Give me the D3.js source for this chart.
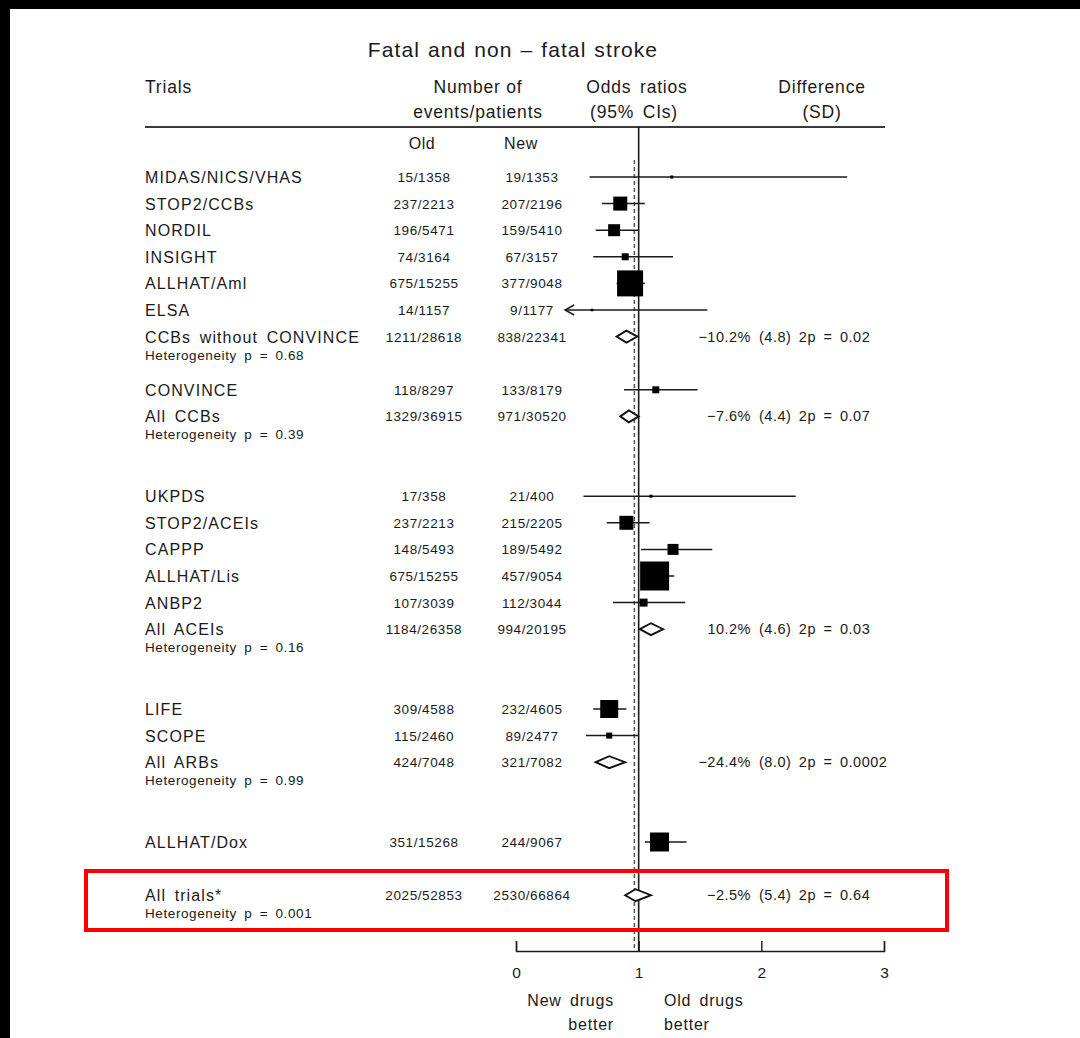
<!DOCTYPE html>
<html>
<head>
<meta charset="utf-8">
<script src="https://cdn.jsdelivr.net/npm/d3@7"></script>
<style>
  html, body { margin: 0; padding: 0; background: #000; }
  svg { display: block; }
  text { font-family: "Liberation Sans", Arial, Helvetica, sans-serif; fill: #1a1a1a; }
</style>
</head>
<body>
<svg id="chart" width="1080" height="1038"></svg>
<script>
// ---- Trial rows (top to bottom) ----
const trials = ["MIDAS/NICS/VHAS", "STOP2/CCBs", "NORDIL", "INSIGHT", "ALLHAT/Aml", "ELSA",
  "CCBs without CONVINCE", "CONVINCE", "All CCBs",
  "UKPDS", "STOP2/ACEIs", "CAPPP", "ALLHAT/Lis", "ANBP2", "All ACEIs",
  "LIFE", "SCOPE", "All ARBs", "ALLHAT/Dox", "All trials*"];
// row slot index (gaps separate drug classes)
const rowSlot = [0, 1, 2, 3, 4, 5, 6, 8, 9, 12, 13, 14, 15, 16, 17, 20, 21, 22, 25, 27];
const isSummary = [0, 0, 0, 0, 0, 0, 1, 0, 1, 0, 0, 0, 0, 0, 1, 0, 0, 1, 0, 1];
const oldEvents = ["15/1358", "237/2213", "196/5471", "74/3164", "675/15255", "14/1157",
  "1211/28618", "118/8297", "1329/36915",
  "17/358", "237/2213", "148/5493", "675/15255", "107/3039", "1184/26358",
  "309/4588", "115/2460", "424/7048", "351/15268", "2025/52853"];
const newEvents = ["19/1353", "207/2196", "159/5410", "67/3157", "377/9048", "9/1177",
  "838/22341", "133/8179", "971/30520",
  "21/400", "215/2205", "189/5492", "457/9054", "112/3044", "994/20195",
  "232/4605", "89/2477", "321/7082", "244/9067", "2530/66864"];
const oddsRatio = [1.27, 0.85, 0.80, 0.89, 0.93, 0.62, 0.90, 1.14, 0.92,
  1.10, 0.90, 1.28, 1.13, 1.04, 1.10, 0.76, 0.76, 0.76, 1.17, 0.975];
const ciLow = [0.60, 0.70, 0.65, 0.63, 0.82, 0.28, 0.82, 0.88, 0.85,
  0.55, 0.74, 1.02, 1.02, 0.79, 1.01, 0.63, 0.57, 0.65, 1.05, 0.89];
const ciHigh = [2.70, 1.05, 1.00, 1.28, 1.05, 1.56, 0.99, 1.48, 1.00,
  2.28, 1.09, 1.60, 1.29, 1.38, 1.20, 0.90, 1.00, 0.89, 1.39, 1.10];
// relative statistical weight of each trial (summaries drawn as diamonds)
const weight = [1.1, 23.3, 17.1, 5.8, 80.4, 0.4, null, 5.8, null,
  1.1, 23.3, 14.4, 100, 7.6, null, 38.5, 4.3, null, 42.9, null];

// ---- Summary rows: heterogeneity and difference ----
const heterogeneityP = ["0.68", "0.39", "0.16", "0.99", "0.001"];
const diffPct = ["−10.2%", "−7.6%", "10.2%", "−24.4%", "−2.5%"];
const diffSD = ["4.8", "4.4", "4.6", "8.0", "5.4"];
const diffP = ["0.02", "0.07", "0.03", "0.0002", "0.64"];

// ---- Axis ----
const axisTicks = [0, 1, 2, 3];
const plotMin = 0.4;   // intervals below this are cut with an arrow
const overallOR = 0.965;

const svg = d3.select("#chart");
// page background with the dark frame on the top and left edges
svg.append("rect").attr("x", 10).attr("y", 9).attr("width", 1070).attr("height", 1029).attr("fill", "#fff");

const x = d3.scaleLinear().domain([0, 3]).range([516, 884]);
const y = d3.scaleLinear().domain([0, 1]).range([177, 203.6]);
const boxSide = d3.scaleSqrt().domain([0, 100]).range([0, 29]);

const xName = 145, xOld = 424, xNew = 532;
const axisY = 951, ruleY = 127;

// ---- Title and headers ----
svg.append("text").attr("x", 513).attr("y", 57).attr("text-anchor", "middle")
  .style("font-size", "21px").style("letter-spacing", "1.1px").style("word-spacing", "1px")
  .text("Fatal and non – fatal stroke");

const head = svg.append("g").style("font-size", "17.5px").style("letter-spacing", "0.8px");
head.append("text").attr("x", xName).attr("y", 93).text("Trials");
head.append("text").attr("x", 478).attr("y", 93).attr("text-anchor", "middle").text("Number of");
head.append("text").attr("x", 478).attr("y", 118).attr("text-anchor", "middle").text("events/patients");
head.append("text").attr("x", 637).attr("y", 93).attr("text-anchor", "middle").style("word-spacing", "3px").text("Odds ratios");
head.append("text").attr("x", 634).attr("y", 118).attr("text-anchor", "middle").style("word-spacing", "3px").text("(95% CIs)");
head.append("text").attr("x", 822).attr("y", 93).attr("text-anchor", "middle").text("Difference");
head.append("text").attr("x", 822).attr("y", 118).attr("text-anchor", "middle").text("(SD)");

svg.append("line").attr("x1", xName).attr("x2", 885).attr("y1", ruleY).attr("y2", ruleY)
  .attr("stroke", "#3a3a3a").attr("stroke-width", 2.2);

svg.append("text").attr("x", 422).attr("y", 149).attr("text-anchor", "middle")
  .style("font-size", "16px").style("letter-spacing", "0.6px").text("Old");
svg.append("text").attr("x", 521).attr("y", 149).attr("text-anchor", "middle")
  .style("font-size", "16px").style("letter-spacing", "0.6px").text("New");

// ---- Reference lines ----
svg.append("line").attr("x1", x(overallOR)).attr("x2", x(overallOR))
  .attr("y1", 160).attr("y2", axisY)
  .attr("stroke", "#555").attr("stroke-width", 1.5).attr("stroke-dasharray", "4,3");
svg.append("line").attr("x1", x(1)).attr("x2", x(1)).attr("y1", ruleY).attr("y2", axisY)
  .attr("stroke", "#1a1a1a").attr("stroke-width", 1.6);

// ---- Rows ----
const rows = trials.map((name, i) => ({
  name, slot: rowSlot[i], summary: isSummary[i] === 1,
  old: oldEvents[i], neu: newEvents[i],
  or: oddsRatio[i], lo: ciLow[i], hi: ciHigh[i], w: weight[i]
}));
let s = 0;
rows.forEach(r => { if (r.summary) r.sIndex = s++; });

const g = svg.append("g");
rows.forEach(r => {
  const cy = y(r.slot);
  g.append("text").attr("x", xName).attr("y", cy + 6)
    .style("font-size", "16px").style("letter-spacing", "1.1px").style("word-spacing", "3px")
    .text(r.name);
  g.append("text").attr("x", xOld).attr("y", cy + 5).attr("text-anchor", "middle")
    .style("font-size", "13.5px").style("letter-spacing", "0.6px").text(r.old);
  g.append("text").attr("x", xNew).attr("y", cy + 5).attr("text-anchor", "middle")
    .style("font-size", "13.5px").style("letter-spacing", "0.6px").text(r.neu);

  if (r.summary) {
    const k = r.sIndex;
    g.append("text").attr("x", xName).attr("y", cy + 23)
      .style("font-size", "13.5px").style("letter-spacing", "0.6px").style("word-spacing", "3px")
      .text("Heterogeneity p = " + heterogeneityP[k]);
    // hollow diamond spanning the confidence interval
    const h = 6;
    const pts = [[x(r.lo), cy], [x(r.or), cy - h], [x(r.hi), cy], [x(r.or), cy + h]];
    g.append("path").attr("d", d3.line()(pts) + "Z")
      .attr("fill", "#fff").attr("stroke", "#111").attr("stroke-width", 1.9);
    g.append("text").attr("x", 751).attr("y", cy + 5).attr("text-anchor", "end")
      .style("font-size", "14.5px").style("letter-spacing", "0.5px").text(diffPct[k]);
    g.append("text").attr("x", 759).attr("y", cy + 5)
      .style("font-size", "14.5px").style("letter-spacing", "0.5px").style("word-spacing", "3px")
      .text("(" + diffSD[k] + ") 2p = " + diffP[k]);
  } else {
    const lo = Math.max(r.lo, plotMin);
    g.append("line").attr("x1", x(lo)).attr("x2", x(r.hi)).attr("y1", cy).attr("y2", cy)
      .attr("stroke", "#1a1a1a").attr("stroke-width", 1.5);
    if (r.lo < plotMin) {
      const ax = x(plotMin);
      g.append("path").attr("d", `M${ax + 9},${cy - 5}L${ax},${cy}L${ax + 9},${cy + 5}`)
        .attr("fill", "none").attr("stroke", "#1a1a1a").attr("stroke-width", 1.5);
    }
    const side = Math.max(boxSide(r.w), 2.5);
    g.append("rect").attr("x", x(r.or) - side / 2).attr("y", cy - side / 2)
      .attr("width", side).attr("height", side).attr("fill", "#000");
  }
});

// ---- Axis (bracket style, ticks pointing up) ----
const axis = d3.axisBottom(x).tickValues(axisTicks).tickFormat(d3.format("d"))
  .tickSize(-10).tickSizeOuter(-10).tickPadding(16);
const ax = svg.append("g").attr("transform", `translate(0,${axisY})`).call(axis);
ax.select(".domain").attr("stroke", "#1a1a1a").attr("stroke-width", 1.4);
ax.selectAll(".tick line").attr("stroke", "#1a1a1a").attr("stroke-width", 1.4);
ax.selectAll(".tick text").style("font-size", "15.5px").attr("fill", "#1a1a1a")
  .style("font-family", "'Liberation Sans', Arial, sans-serif");

const lab = svg.append("g").style("font-size", "16px").style("letter-spacing", "0.8px").style("word-spacing", "3px");
lab.append("text").attr("x", 614).attr("y", 1006).attr("text-anchor", "end").text("New drugs");
lab.append("text").attr("x", 614).attr("y", 1030).attr("text-anchor", "end").text("better");
lab.append("text").attr("x", 664).attr("y", 1006).text("Old drugs");
lab.append("text").attr("x", 664).attr("y", 1030).text("better");

// ---- Highlight box around the overall result ----
svg.append("rect").attr("x", 86).attr("y", 871).attr("width", 861).attr("height", 59)
  .attr("fill", "none").attr("stroke", "#ff0000").attr("stroke-width", 4);
</script>
</body>
</html>
